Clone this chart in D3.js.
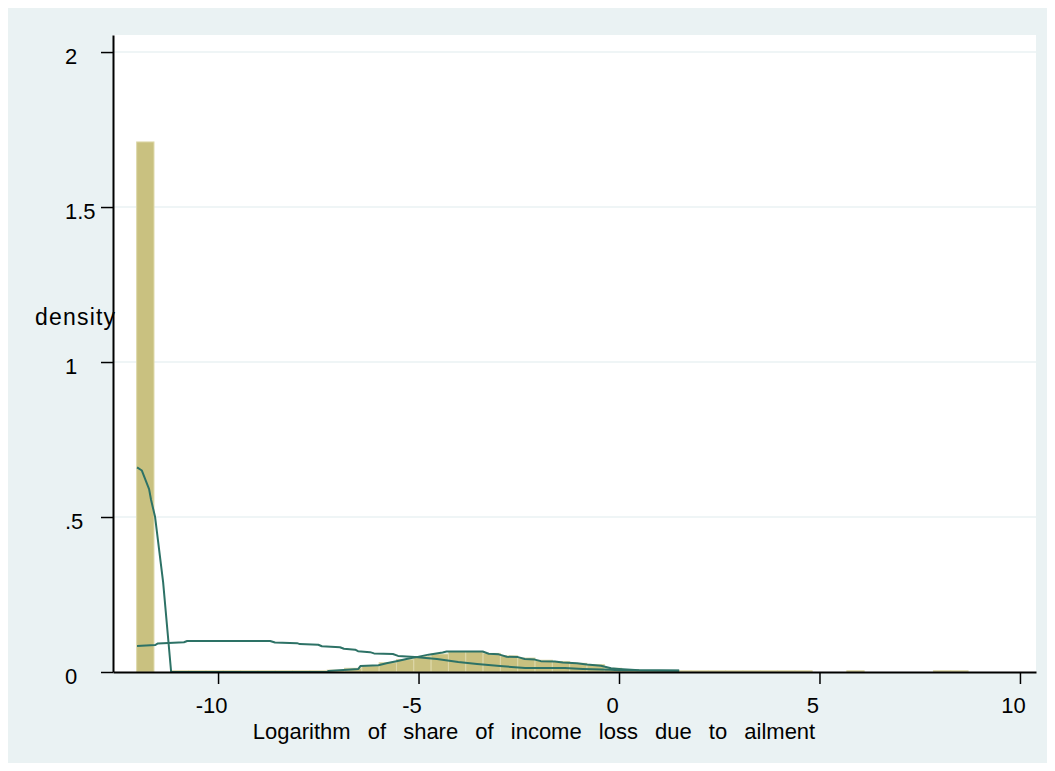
<!DOCTYPE html>
<html>
<head>
<meta charset="utf-8">
<script src="https://cdn.jsdelivr.net/npm/d3@7"></script>
<style>
  body { margin: 0; background: #fff; }
  text { font-family: "Liberation Sans", Arial, sans-serif; }
</style>
</head>
<body>
<div id="chart"></div>
<script>
// histogram: left edge of first bin, bin width, densities per bin
const binStart = -12.03;
const binWidth = 0.432;
const binDensity = [
  1.71, 0, 0.004, 0.004, 0.004, 0.004, 0.004, 0.004, 0.004, 0.004,
  0.004, 0.006, 0.012, 0.02, 0.03, 0.04, 0.05, 0.058, 0.066, 0.066,
  0.06, 0.052, 0.045, 0.038, 0.034, 0.028, 0.024, 0.012, 0.006, 0.004,
  0.004, 0.004, 0.004, 0.004, 0.004, 0.004, 0.004, 0.004, 0.004, 0,
  0, 0.004, 0, 0, 0, 0, 0.004, 0.004
];

// two density curves [x, density]
const curveA = [
  [-12.02, 0.66], [-11.9, 0.65], [-11.72, 0.59], [-11.67, 0.555], [-11.57, 0.5],
  [-11.37, 0.29], [-11.17, 0], [-7.28, 0], [-7.25, 0.003], [-6.5, 0.01],
  [-6.45, 0.019], [-6.0, 0.022], [-5.8, 0.028], [-5.55, 0.035], [-5.3, 0.042],
  [-5.05, 0.048], [-4.75, 0.056], [-4.4, 0.063], [-4.3, 0.066], [-3.4, 0.066],
  [-3.25, 0.059], [-3.0, 0.057], [-2.8, 0.049], [-2.52, 0.048], [-2.35, 0.042],
  [-2.1, 0.04], [-1.95, 0.035], [-1.6, 0.034], [-1.4, 0.031], [-1.05, 0.028],
  [-0.8, 0.024], [-0.45, 0.02], [-0.2, 0.012], [0.0, 0.01], [0.5, 0.006],
  [1.0, 0.005], [1.5, 0.004]
];
const curveB = [
  [-12.02, 0.084], [-11.57, 0.087], [-11.5, 0.092], [-10.85, 0.096], [-10.77, 0.1],
  [-8.7, 0.1], [-8.58, 0.095], [-8.03, 0.093], [-7.96, 0.09], [-7.5, 0.088],
  [-7.41, 0.083], [-6.96, 0.08], [-6.86, 0.075], [-6.58, 0.072], [-6.51, 0.067],
  [-6.21, 0.064], [-6.11, 0.06], [-5.64, 0.058], [-5.51, 0.052], [-5.09, 0.048],
  [-4.54, 0.042], [-4.01, 0.032], [-3.54, 0.026], [-2.97, 0.019], [-2.34, 0.013],
  [-1.35, 0.013], [-0.9, 0.01], [-0.2, 0.007], [0.0, 0.006], [1.5, 0.005]
];

const xTicks = [-10, -5, 0, 5, 10];
const yTicks = [0, 0.5, 1, 1.5, 2];
const yTickLabels = ["0", ".5", "1", "1.5", "2"];
const xTitle = "Logarithm of share of income loss due to ailment";
const yTitle = "density";

const width = 1055, height = 771;
const margin = {top: 35, right: 19, bottom: 99, left: 113};

const svg = d3.select("#chart").append("svg")
  .attr("width", width)
  .attr("height", height);

svg.append("rect")
  .attr("x", 8).attr("y", 8)
  .attr("width", width - 16).attr("height", height - 16)
  .attr("fill", "#eaf2f3");

svg.append("rect")
  .attr("x", margin.left).attr("y", margin.top)
  .attr("width", width - margin.left - margin.right)
  .attr("height", height - margin.top - margin.bottom)
  .attr("fill", "#fff");

const x = d3.scaleLinear()
  .domain([-12.62, 10.4])
  .range([margin.left, width - margin.right]);
const y = d3.scaleLinear()
  .domain([0, 2.055])
  .range([height - margin.bottom, margin.top]);

// grid
svg.append("g")
  .selectAll("line")
  .data(yTicks.filter(d => d > 0))
  .join("line")
    .attr("x1", margin.left).attr("x2", width - margin.right)
    .attr("y1", d => y(d)).attr("y2", d => y(d))
    .attr("stroke", "#eaf2f3")
    .attr("stroke-width", 1.5);

// bars
svg.append("g")
  .selectAll("rect")
  .data(binDensity.map((v, i) => ({lo: binStart + i * binWidth, v})).filter(d => d.v > 0))
  .join("rect")
    .attr("x", d => x(d.lo))
    .attr("width", d => x(d.lo + binWidth) - x(d.lo))
    .attr("y", d => y(d.v))
    .attr("height", d => y(0) - y(d.v))
    .attr("fill", "#c9c180")
    .attr("stroke", "#ddd8a9")
    .attr("stroke-width", 1);

const line = d3.line()
  .x(d => x(d[0]))
  .y(d => y(d[1]));

svg.append("g")
  .selectAll("path")
  .data([curveA, curveB])
  .join("path")
    .attr("d", line)
    .attr("fill", "none")
    .attr("stroke", "#2d7266")
    .attr("stroke-width", 2)
    .attr("stroke-linejoin", "round");

// axes
const gy = svg.append("g")
  .attr("transform", `translate(${margin.left},0)`)
  .call(d3.axisLeft(y).tickValues(yTicks).tickFormat((d, i) => yTickLabels[i]).tickSize(12).tickSizeOuter(0));
gy.attr("font-size", 22).attr("font-family", null);
gy.select(".domain").attr("stroke-width", 2);
gy.selectAll(".tick line").attr("stroke-width", 1.5);
gy.selectAll(".tick text")
  .attr("text-anchor", "start")
  .attr("x", 65 - margin.left)
  .attr("dy", "0.5em")
  .attr("fill", "#000");

const gx = svg.append("g")
  .attr("transform", `translate(0,${y(0)})`)
  .call(d3.axisBottom(x).tickValues(xTicks).tickSize(12).tickPadding(13).tickSizeOuter(0)
    .tickFormat(d3.format("d")));
gx.attr("font-size", 22).attr("font-family", null);
gx.select(".domain").attr("stroke-width", 2);
gx.selectAll(".tick line").attr("stroke-width", 1.5);
gx.selectAll(".tick text").attr("dx", -7).attr("fill", "#000").text(d => String(d));

svg.append("text")
  .attr("x", 534)
  .attr("y", 739)
  .attr("text-anchor", "middle")
  .attr("font-size", 22)
  .style("word-spacing", "11px")
  .text(xTitle);

svg.append("text")
  .attr("x", 35)
  .attr("y", 325)
  .attr("font-size", 23)
  .style("letter-spacing", "1.2px")
  .text(yTitle);
</script>
</body>
</html>
